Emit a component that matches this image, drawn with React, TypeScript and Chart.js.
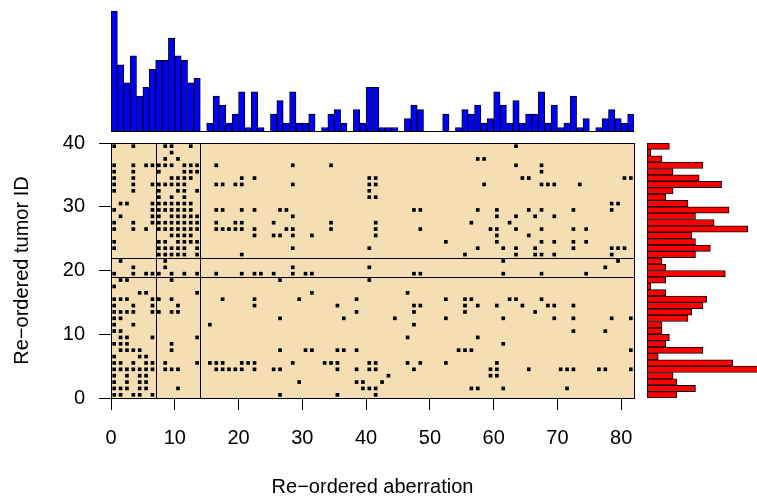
import React, { useEffect, useRef } from "react";
import { Chart, registerables } from "chart.js";

Chart.register(...registerables);

// Column (aberration) counts, 82 columns, left to right
const colCounts = [
  27, 15, 11, 17, 8, 10, 14, 16, 16, 21, 17, 16, 11, 12,
  0, 2, 8, 6, 2, 4, 9, 1, 9, 1, 0, 4, 7, 2, 9, 2, 2, 4, 0, 1, 4, 5, 2, 0, 5, 2, 10,
  10, 1, 1, 1, 0, 3, 6, 5, 0, 0, 0, 4, 0, 1, 5, 4, 6, 2, 3, 9, 6, 2, 7, 2, 4, 4, 9, 2, 6, 1, 2, 8, 1, 3, 0, 1, 3, 5, 3, 2, 4,
];

// Row (tumor) counts, row 0 (bottom) to row 39 (top)
const rowCounts = [
  8, 13, 8, 7, 32, 23, 3, 15, 5, 6,
  4, 4, 11, 12, 15, 16, 5, 1, 5, 21,
  5, 4, 13, 17, 13, 12, 27, 18, 13, 22,
  11, 5, 7, 20, 14, 7, 15, 4, 1, 6,
];

// Occupied columns for each tumor row, row 0 (bottom) to row 39 (top)
const tumorRows: number[][] = [
  [0, 1, 3, 4, 6, 26, 35, 41],
  [0, 1, 2, 4, 5, 10, 39, 40, 41, 56, 57, 61, 71],
  [0, 2, 4, 5, 29, 38, 39, 42],
  [0, 2, 4, 5, 43, 59, 60],
  [0, 1, 2, 3, 4, 5, 6, 8, 9, 10, 16, 17, 18, 19, 20, 22, 25, 26, 35, 38, 40, 41, 47, 59, 60, 65, 70, 71, 72, 76, 77, 81],
  [0, 1, 3, 5, 6, 8, 13, 15, 16, 17, 20, 21, 22, 28, 33, 34, 35, 40, 41, 46, 48, 52, 60],
  [0, 4, 5],
  [1, 2, 3, 4, 9, 26, 30, 31, 35, 36, 38, 54, 55, 56, 81],
  [0, 1, 2, 9, 61],
  [1, 2, 6, 13, 46, 57],
  [0, 1, 72, 77],
  [0, 3, 15, 47],
  [0, 1, 26, 36, 44, 52, 61, 69, 72, 78, 81],
  [0, 1, 2, 3, 6, 7, 9, 10, 38, 47, 55, 66],
  [0, 3, 6, 10, 22, 35, 47, 48, 55, 57, 60, 64, 68, 69, 72],
  [0, 1, 2, 6, 7, 9, 17, 22, 29, 38, 52, 55, 56, 62, 63, 67],
  [4, 5, 13, 31, 46],
  [0],
  [1, 2, 9, 26, 40],
  [0, 3, 5, 6, 7, 9, 11, 13, 16, 20, 22, 23, 25, 28, 30, 31, 47, 48, 61, 67, 74],
  [3, 8, 28, 40, 77],
  [1, 8, 61, 79],
  [7, 8, 9, 10, 11, 13, 20, 55, 63, 66, 67, 69, 78],
  [0, 7, 8, 9, 10, 11, 13, 28, 40, 57, 61, 63, 66, 72, 78, 79, 80],
  [0, 7, 8, 10, 11, 12, 13, 52, 60, 67, 69, 72, 74],
  [9, 10, 11, 12, 22, 25, 26, 28, 31, 41, 60, 65],
  [0, 3, 5, 7, 8, 9, 10, 11, 12, 13, 16, 17, 18, 19, 20, 22, 27, 28, 34, 41, 48, 59, 60, 63, 67, 72, 74],
  [0, 3, 6, 7, 8, 9, 10, 11, 12, 13, 16, 19, 20, 25, 34, 41, 56, 62],
  [1, 6, 7, 9, 10, 11, 12, 13, 28, 60, 63, 66, 69],
  [0, 6, 7, 8, 9, 10, 11, 12, 16, 17, 20, 22, 26, 27, 47, 48, 57, 60, 65, 67, 72, 78],
  [1, 2, 6, 7, 8, 9, 10, 11, 12, 78, 79],
  [7, 9, 11, 40, 41],
  [0, 3, 7, 10, 11, 13, 40],
  [0, 3, 6, 7, 8, 9, 10, 11, 16, 17, 19, 20, 28, 40, 41, 58, 67, 68, 69, 73],
  [0, 3, 9, 10, 11, 12, 20, 22, 40, 41, 64, 65, 80, 81],
  [0, 3, 7, 11, 12, 13, 67],
  [0, 3, 5, 6, 7, 8, 9, 11, 12, 13, 16, 28, 34, 63, 67],
  [8, 10, 57, 58],
  [9],
  [0, 3, 8, 9, 12, 63],
];

const xTicks = [0, 10, 20, 30, 40, 50, 60, 70, 80];
const yTicks = [0, 10, 20, 30, 40];
const vLines = [7, 14];
const hLines = [19, 22];
const xTitle = "Re\u2212ordered aberration";
const yTitle = "Re\u2212ordered tumor ID";

const FONT = "'Liberation Sans', Arial, Helvetica, sans-serif";

export default function App() {
  const mainRef = useRef<HTMLCanvasElement>(null);
  const topRef = useRef<HTMLCanvasElement>(null);
  const rightRef = useRef<HTMLCanvasElement>(null);

  useEffect(() => {
    const points: { x: number; y: number }[] = [];
    tumorRows.forEach((cols, i) => cols.forEach((j) => points.push({ x: j + 0.5, y: i + 0.5 })));

    const panelPlugin = {
      id: "panel",
      beforeDraw(chart: any) {
        const { ctx, chartArea: a } = chart;
        ctx.save();
        ctx.fillStyle = "#F5DEB3";
        ctx.fillRect(a.left, a.top, a.right - a.left, a.bottom - a.top);
        ctx.restore();
      },
      afterDatasetsDraw(chart: any) {
        const { ctx, chartArea: a, scales } = chart;
        ctx.save();
        ctx.strokeStyle = "#000";
        ctx.lineWidth = 1;
        ctx.beginPath();
        vLines.forEach((v) => {
          const px = Math.round(scales.x.getPixelForValue(v)) + 0.5;
          ctx.moveTo(px, a.top);
          ctx.lineTo(px, a.bottom);
        });
        hLines.forEach((v) => {
          const py = Math.round(scales.y.getPixelForValue(v)) + 0.5;
          ctx.moveTo(a.left, py);
          ctx.lineTo(a.right, py);
        });
        ctx.stroke();
        ctx.strokeRect(Math.round(a.left) + 0.5, Math.round(a.top) + 0.5, Math.round(a.right - a.left), Math.round(a.bottom - a.top));
        ctx.restore();
      },
    };

    const main = new Chart(mainRef.current!, {
      type: "scatter",
      data: {
        datasets: [
          {
            data: points,
            pointStyle: "rect",
            radius: 2.6,
            backgroundColor: "#000",
            borderWidth: 0,
          },
        ],
      },
      options: {
        animation: false,
        responsive: false,
        layout: { padding: { left: 0, top: 143, right: 123, bottom: 0 } },
        plugins: { legend: { display: false }, tooltip: { enabled: false } },
        scales: {
          x: {
            type: "linear",
            min: 0,
            max: 82,
            afterBuildTicks: (s: any) => {
              s.ticks = xTicks.map((v) => ({ value: v }));
            },
            afterFit: (s: any) => {
              s.height = 102;
            },
            grid: { drawOnChartArea: false, drawTicks: true, tickLength: 12, color: "#000", lineWidth: 1 },
            border: { display: true, color: "#000" },
            ticks: { color: "#000", font: { family: FONT, size: 20 }, padding: 16, maxRotation: 0, autoSkip: false },
            title: {
              display: true,
              text: xTitle,
              color: "#000",
              font: { family: FONT, size: 20, lineHeight: 1.2 },
              padding: { top: 0, bottom: 1 },
            },
          },
          y: {
            type: "linear",
            min: 0,
            max: 40,
            afterBuildTicks: (s: any) => {
              s.ticks = yTicks.map((v) => ({ value: v }));
            },
            afterFit: (s: any) => {
              s.width = 111;
            },
            grid: { drawOnChartArea: false, drawTicks: true, tickLength: 12, color: "#000", lineWidth: 1 },
            border: { display: true, color: "#000" },
            ticks: { color: "#000", font: { family: FONT, size: 20 }, padding: 14, autoSkip: false },
            title: {
              display: true,
              text: yTitle,
              color: "#000",
              font: { family: FONT, size: 20, lineHeight: 1.2 },
              padding: { top: 10, bottom: 0 },
            },
          },
        },
      },
      plugins: [panelPlugin],
    } as any);

    const baselinePlugin = {
      id: "baseline",
      afterDatasetsDraw(chart: any) {
        const { ctx, chartArea: a } = chart;
        ctx.save();
        ctx.strokeStyle = "#000";
        ctx.lineWidth = 1;
        ctx.beginPath();
        ctx.moveTo(a.left, Math.round(a.bottom) - 0.5);
        ctx.lineTo(a.right, Math.round(a.bottom) - 0.5);
        ctx.stroke();
        ctx.restore();
      },
    };

    const top = new Chart(topRef.current!, {
      type: "bar",
      data: {
        labels: colCounts.map((_, j) => String(j)),
        datasets: [
          {
            data: colCounts,
            backgroundColor: "#0000FF",
            borderColor: "#000",
            borderWidth: 1,
            borderSkipped: false,
            barPercentage: 1,
            categoryPercentage: 1,
          },
        ],
      },
      options: {
        animation: false,
        responsive: false,
        layout: { padding: { left: 111, right: 123, top: 0, bottom: 368 } },
        plugins: { legend: { display: false }, tooltip: { enabled: false } },
        scales: {
          x: { display: false },
          y: { display: false, min: 0, max: 29.5 },
        },
      },
      plugins: [baselinePlugin],
    } as any);

    const right = new Chart(rightRef.current!, {
      type: "bar",
      data: {
        labels: rowCounts.map((_, i) => String(i)),
        datasets: [
          {
            data: rowCounts,
            backgroundColor: "#FF0000",
            borderColor: "#000",
            borderWidth: 1,
            borderSkipped: false,
            barPercentage: 1,
            categoryPercentage: 1,
          },
        ],
      },
      options: {
        animation: false,
        responsive: false,
        indexAxis: "y",
        layout: { padding: { left: 647, right: 0, top: 143, bottom: 102 } },
        plugins: { legend: { display: false }, tooltip: { enabled: false } },
        scales: {
          y: { display: false, reverse: true },
          x: { display: false, min: 0, max: 29.5 },
        },
      },
    } as any);

    return () => {
      main.destroy();
      top.destroy();
      right.destroy();
    };
  }, []);

  const cs: React.CSSProperties = { position: "absolute", left: 0, top: 0 };
  return (
    <div style={{ position: "absolute", left: 0, top: 0, width: 757, height: 500, background: "#fff", overflow: "hidden" }}>
      <canvas ref={mainRef} width={757} height={500} style={cs} />
      <canvas ref={topRef} width={757} height={500} style={cs} />
      <canvas ref={rightRef} width={757} height={500} style={cs} />
    </div>
  );
}
